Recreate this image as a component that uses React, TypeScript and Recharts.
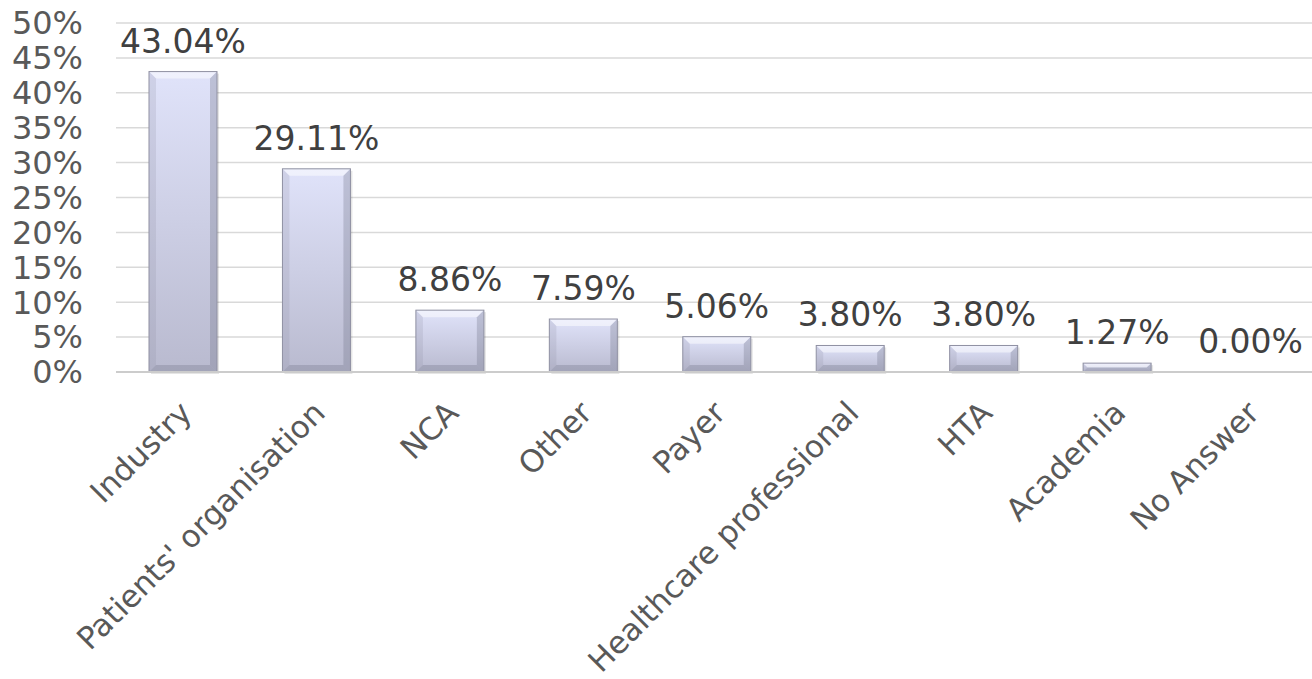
import { BarChart, Bar, XAxis, YAxis, CartesianGrid, LabelList } from "recharts";

const categories = [
  "Industry",
  "Patients' organisation",
  "NCA",
  "Other",
  "Payer",
  "Healthcare professional",
  "HTA",
  "Academia",
  "No Answer",
];
const shares = [43.04, 29.11, 8.86, 7.59, 5.06, 3.8, 3.8, 1.27, 0.0];
const yTicks = [0, 5, 10, 15, 20, 25, 30, 35, 40, 45, 50];

const data = categories.map((name, i) => ({ name, value: shares[i] }));

const FONT = "'DejaVu Sans', Verdana, sans-serif";

function BevelBar(props: any) {
  const { x, y, width: w, height: h } = props;
  if (!h || h <= 0) return null;
  const b = Math.min(7, h / 2);
  return (
    <g>
      <rect x={x + 2} y={y + 2} width={w} height={h} fill="#000" opacity={0.1} />
      <rect x={x} y={y} width={w} height={h} fill="url(#barFill)" />
      {/* bevel edges */}
      <polygon
        points={`${x},${y} ${x + w},${y} ${x + w - b},${y + b} ${x + b},${y + b}`}
        fill="#ffffff"
        opacity={0.5}
      />
      <polygon
        points={`${x},${y} ${x + b},${y + b} ${x + b},${y + h - b} ${x},${y + h}`}
        fill="#8a8ba0"
        opacity={0.2}
      />
      <polygon
        points={`${x + w},${y} ${x + w - b},${y + b} ${x + w - b},${y + h - b} ${x + w},${y + h}`}
        fill="#6e6f84"
        opacity={0.3}
      />
      <polygon
        points={`${x},${y + h} ${x + b},${y + h - b} ${x + w - b},${y + h - b} ${x + w},${y + h}`}
        fill="#6e6f84"
        opacity={0.3}
      />
      <rect x={x} y={y} width={w} height={h} fill="none" stroke="#8f90a2" strokeWidth={1} />
    </g>
  );
}

function XTick(props: any) {
  const { x, y, payload } = props;
  const tx = x + 3;
  const ty = y + 27;
  return (
    <text
      x={tx}
      y={ty}
      dy="0.35em"
      textAnchor="end"
      transform={`rotate(-45, ${tx}, ${ty})`}
      fill="#595959"
      fontSize={31}
      fontFamily={FONT}
    >
      {payload.value}
    </text>
  );
}

export default function App() {
  return (
    <div
      style={{
        position: "absolute",
        left: 0,
        top: 0,
        width: 1312,
        height: 679,
        overflow: "hidden",
        background: "#fff",
        fontFamily: FONT,
      }}
    >
      <BarChart
        width={1330}
        height={679}
        data={data}
        margin={{ top: 23, right: 13, left: 0, bottom: 0 }}
        barSize={68}
      >
        <defs>
          <linearGradient id="barFill" x1="0" y1="0" x2="0" y2="1">
            <stop offset="0%" stopColor="#e0e3fa" />
            <stop offset="100%" stopColor="#b9bacf" />
          </linearGradient>
        </defs>
        <CartesianGrid vertical={false} stroke="#d9d9d9" strokeWidth={1.5} />
        <XAxis
          dataKey="name"
          interval={0}
          height={307}
          tickLine={false}
          axisLine={{ stroke: "#cccccc", strokeWidth: 2 }}
          tick={<XTick />}
        />
        <YAxis
          width={116}
          domain={[0, 50]}
          ticks={yTicks}
          interval={0}
          tickFormatter={(v: number) => `${v}%`}
          tickLine={false}
          axisLine={false}
          tickMargin={27}
          tick={{ fill: "#595959", fontSize: 32, fontFamily: FONT }}
        />
        <Bar dataKey="value" shape={<BevelBar />} isAnimationActive={false}>
          <LabelList
            dataKey="value"
            position="top"
            offset={19}
            formatter={(v: any) => `${Number(v).toFixed(2)}%`}
            fill="#404040"
            fontSize={33}
            fontFamily={FONT}
          />
        </Bar>
      </BarChart>
    </div>
  );
}
